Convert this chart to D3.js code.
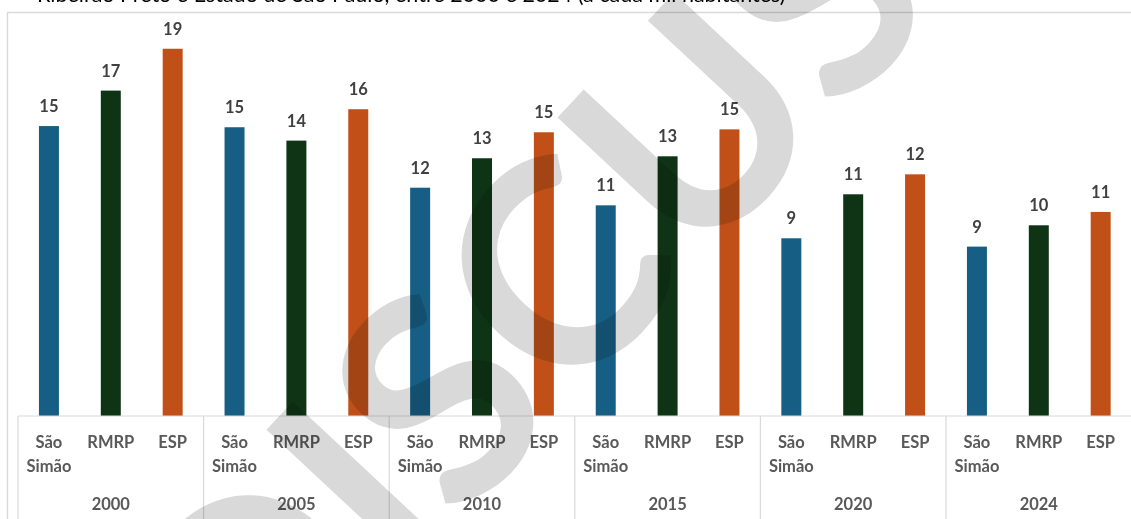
<!DOCTYPE html>
<html lang="pt-BR">
<head>
<meta charset="utf-8">
<script src="https://cdn.jsdelivr.net/npm/d3@7"></script>
<style>
  html, body { margin: 0; padding: 0; background: #fff; overflow: hidden; }
  svg { display: block; font-family: Lato, "Open Sans", sans-serif; }
  .watermark { mix-blend-mode: multiply; }
</style>
</head>
<body>
<svg id="chart" width="1131" height="519"></svg>
<script>
// Taxa de natalidade (por mil habitantes)
const years = ["2000", "2005", "2010", "2015", "2020", "2024"];
const places = ["São Simão", "RMRP", "ESP"];
const saoSimao = [14.96, 14.90, 11.78, 10.87, 9.17, 8.74];
const rmrp     = [16.79, 14.21, 13.30, 13.40, 11.44, 9.84];
const esp      = [18.95, 15.83, 14.64, 14.79, 12.47, 10.53];
const placeLabels = [["São", "Simão"], ["RMRP"], ["ESP"]];
const colors = ["#165e83", "#0e3415", "#c05017"];
const titleLine = "Ribeirão Preto e Estado de São Paulo, entre 2000 e 2024 (a cada mil habitantes)";
const watermarkText = "DISCUSSÃO";

const seriesByPlace = [saoSimao, rmrp, esp];
const rows = years.flatMap((yr, i) =>
  places.map((p, j) => ({ year: yr, place: p, idx: j, value: seriesByPlace[j][i] })));

const svg = d3.select("#chart");
const W = 1131, H = 519;
const plot = { left: 18, right: 1131.6, top: 28.4, bottom: 416 };

const x0 = d3.scaleBand().domain(years).range([plot.left, plot.right]).padding(0);
const x1 = d3.scaleBand().domain(places).range([0, x0.bandwidth()]).padding(0);
const barW = x1.bandwidth() * 0.323;
const y = d3.scaleLinear().domain([0, 20]).range([plot.bottom, plot.top]);
const fmt = d3.format(".0f");

// title line (upper part cut by the frame)
svg.append("text")
  .attr("x", 37).attr("y", 1.5)
  .attr("font-size", 21.5).attr("fill", "#000")
  .text(titleLine);

// chart frame
svg.append("path")
  .attr("d", `M7.5,${H + 2} V12.5 H${W + 2}`)
  .attr("fill", "none").attr("stroke", "#d9d9d9").attr("stroke-width", 1.4);

// bars
svg.append("g").selectAll("rect").data(rows).join("rect")
  .attr("x", d => x0(d.year) + x1(d.place) + x1.bandwidth() / 2 - barW / 2)
  .attr("width", barW)
  .attr("y", d => y(d.value))
  .attr("height", d => y(0) - y(d.value))
  .attr("fill", d => colors[d.idx]);

// data labels
svg.append("g").selectAll("text").data(rows).join("text")
  .attr("x", d => x0(d.year) + x1(d.place) + x1.bandwidth() / 2)
  .attr("y", d => y(d.value) - 14)
  .attr("text-anchor", "middle")
  .attr("font-size", 16.5).attr("font-weight", 700).attr("fill", "#404040")
  .text(d => fmt(d.value));

// category axis: baseline and group separators
const axis = svg.append("g").attr("stroke", "#d9d9d9").attr("stroke-width", 1.2);
axis.append("line")
  .attr("x1", plot.left).attr("x2", W + 2)
  .attr("y1", plot.bottom).attr("y2", plot.bottom);
axis.selectAll("line.sep").data(years).join("line").attr("class", "sep")
  .attr("x1", d => x0(d)).attr("x2", d => x0(d))
  .attr("y1", plot.bottom).attr("y2", H + 2);

// inner category labels
const catG = svg.append("g")
  .attr("font-size", 16.5).attr("font-weight", 700).attr("fill", "#595959")
  .attr("text-anchor", "middle");
rows.forEach(d => {
  const cx = x0(d.year) + x1(d.place) + x1.bandwidth() / 2;
  placeLabels[d.idx].forEach((line, k) => {
    catG.append("text").attr("x", cx).attr("y", 448 + k * 24).text(line);
  });
});

// year labels
svg.append("g").selectAll("text").data(years).join("text")
  .attr("x", d => x0(d) + x0.bandwidth() / 2)
  .attr("y", 510)
  .attr("text-anchor", "middle")
  .attr("font-size", 16.5).attr("font-weight", 700).attr("fill", "#595959")
  .text(d => d);

// diagonal watermark
const angle = -47;
const wmSize = 285;
const wmG = svg.append("g").attr("class", "watermark");
const wm = wmG.append("text")
  .attr("x", 0).attr("y", 0)
  .attr("font-size", wmSize).attr("font-weight", 700)
  .attr("fill", "#d9d9d9")
  .text(watermarkText);
// place the "C" glyph centre at its spot on the page
const cs = wm.node().getStartPositionOfChar(3).x;
const ce = wm.node().getEndPositionOfChar(3).x;
const lc = [(cs + ce) / 2, -0.36 * wmSize];
const a = angle * Math.PI / 180;
const rc = [lc[0] * Math.cos(a) - lc[1] * Math.sin(a), lc[0] * Math.sin(a) + lc[1] * Math.cos(a)];
const target = [555, 272];
wmG.attr("transform", `translate(${target[0] - rc[0]},${target[1] - rc[1]}) rotate(${angle})`);
</script>
</body>
</html>
